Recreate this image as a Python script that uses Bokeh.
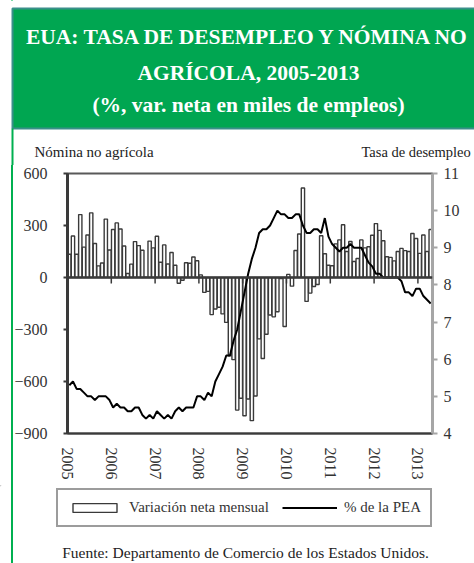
from bokeh.plotting import figure
from bokeh.models import (Range1d, LinearAxis, FixedTicker, Span, Legend, LegendItem)
from bokeh.layouts import column
from bokeh.embed import file_html
from bokeh.resources import INLINE
from bokeh.core.properties import value

# ---------------- data ----------------
years = ["2005", "2006", "2007", "2008", "2009", "2010", "2011", "2012", "2013"]

# Nómina no agrícola: variación neta mensual (miles de empleos)
nomina_2005 = [134, 239, 134, 363, 175, 245, 373, 196, 67, 84, 337, 159]
nomina_2006 = [277, 315, 280, 182, 23, 77, 207, 184, 157, 2, 210, 171]
nomina_2007 = [238, 88, 188, 78, 144, 71, -33, -16, 85, 82, 118, 97]
nomina_2008 = [15, -86, -80, -214, -182, -172, -210, -259, -452, -474, -765, -697]
nomina_2009 = [-798, -701, -826, -684, -354, -467, -327, -216, -227, -198, -6, -283]
nomina_2010 = [18, -50, 156, 251, 516, -138, -90, -52, -40, 241, 137, 71]
nomina_2011 = [68, 194, 217, 304, 150, 208, 92, 110, 217, 171, 177, 244]
nomina_2012 = [311, 272, 212, 120, 116, 96, 150, 168, 155, 150, 254, 225]
nomina_2013 = [139, 245, 150, 277]

# Tasa de desempleo (% de la PEA)
tasa_2005 = [5.3, 5.4, 5.2, 5.2, 5.1, 5.0, 5.0, 4.9, 5.0, 5.0, 5.0, 4.9]
tasa_2006 = [4.7, 4.8, 4.7, 4.7, 4.6, 4.6, 4.7, 4.7, 4.5, 4.4, 4.5, 4.4]
tasa_2007 = [4.6, 4.5, 4.4, 4.5, 4.4, 4.6, 4.7, 4.6, 4.7, 4.7, 4.7, 5.0]
tasa_2008 = [5.0, 4.9, 5.1, 5.0, 5.4, 5.6, 5.8, 6.1, 6.1, 6.5, 6.8, 7.3]
tasa_2009 = [7.8, 8.3, 8.7, 9.0, 9.4, 9.5, 9.5, 9.6, 9.8, 10.0, 9.9, 9.9]
tasa_2010 = [9.8, 9.8, 9.9, 9.9, 9.6, 9.4, 9.4, 9.5, 9.5, 9.4, 9.8, 9.3]
tasa_2011 = [9.1, 9.0, 8.9, 9.0, 9.0, 9.1, 9.0, 9.0, 9.0, 8.8, 8.6, 8.5]
tasa_2012 = [8.3, 8.3, 8.2, 8.2, 8.2, 8.2, 8.2, 8.1, 7.8, 7.8, 7.7, 7.9]
tasa_2013 = [7.9, 7.7, 7.6, 7.5]

left_ticks = [-900, -600, -300, 0, 300, 600]
right_ticks = [4, 5, 6, 7, 8, 9, 10, 11]

title_lines = ["EUA: TASA DE DESEMPLEO Y NÓMINA NO",
               "AGRÍCOLA, 2005-2013",
               "(%, var. neta en miles de empleos)"]
left_name = "Nómina no agrícola"
right_name = "Tasa de desempleo"
legend_labels = ["Variación neta mensual", "% de la PEA"]
source_note = "Fuente:  Departamento de Comercio de los Estados Unidos."

nomina = (nomina_2005 + nomina_2006 + nomina_2007 + nomina_2008 + nomina_2009
          + nomina_2010 + nomina_2011 + nomina_2012 + nomina_2013)
tasa = (tasa_2005 + tasa_2006 + tasa_2007 + tasa_2008 + tasa_2009
        + tasa_2010 + tasa_2011 + tasa_2012 + tasa_2013)
n_months = len(nomina)
xm = [i + 0.5 for i in range(n_months)]
year_pos = [12 * k for k in range(len(years))]

# ---------------- styling ----------------
FONT = "Liberation Serif"
DARK = "#3a3a3a"
GREEN = "#00A651"
CARD_LINE = "#00B050"
WIN_W, WIN_H = 474, 563
TOP_H = 165
MAIN_H = 320
BOT_H = WIN_H - TOP_H - MAIN_H

BAR_STYLE = dict(fill_color="white", line_color=DARK, line_width=1.4)
LINE_STYLE = dict(line_color="black", line_width=2)


def blank(w, h, opaque=True):
    f = figure(width=w, height=h, x_range=Range1d(0, w), y_range=Range1d(h, 0),
               output_backend="svg", toolbar_location=None,
               x_axis_location=None, y_axis_location=None,
               min_border=0, min_border_left=0, min_border_right=0,
               min_border_top=0, min_border_bottom=0, frame_align=False)
    f.outline_line_color = None
    f.xgrid.visible = False
    f.ygrid.visible = False
    f.background_fill_color = "white" if opaque else None
    f.border_fill_color = "white" if opaque else None
    return f


# ---------------- header (title card) ----------------
top = blank(WIN_W, TOP_H)
top.quad(left=12, right=WIN_W + 5, top=8, bottom=128, fill_color=GREEN,
         line_color="#3a8f8a", line_width=2)
top.segment(x0=12, y0=128, x1=12, y1=TOP_H, line_color=CARD_LINE, line_width=2)
top.text(x=[248, 248, 248], y=[36, 72, 104], text=title_lines,
         text_font=value(FONT), text_font_style="bold",
         text_font_size=value("21.5px"), text_color="white",
         text_align="center", text_baseline="alphabetic")
top.text(x=[34], y=[151], text=[left_name], text_font=value(FONT),
         text_font_size=value("15px"), text_color="#222222",
         text_align="left", text_baseline="alphabetic")
top.text(x=[361], y=[151], text=[right_name], text_font=value(FONT),
         text_font_size=value("14.5px"), text_color="#222222",
         text_align="left", text_baseline="alphabetic")

# ---------------- main chart ----------------
p = figure(width=WIN_W, height=MAIN_H, x_range=Range1d(0, n_months),
           y_range=Range1d(-900, 600), output_backend="svg", toolbar_location=None,
           min_border_left=67, min_border_right=42, min_border_top=8,
           min_border_bottom=52, frame_align=False)
p.background_fill_color = "white"
p.border_fill_color = None
p.outline_line_color = "#595959"
p.outline_line_width = 2
p.xgrid.visible = False
p.ygrid.visible = False

# x axis (years)
p.xaxis.ticker = FixedTicker(ticks=year_pos)
p.xaxis.major_label_overrides = {pos: y for pos, y in zip(year_pos, years)}
p.xaxis.major_label_orientation = "vertical"
p.xaxis.major_tick_in = 0
p.xaxis.major_tick_out = 0
p.xaxis.minor_tick_line_color = None
p.xaxis.axis_line_color = DARK
p.xaxis.axis_line_width = 2
p.xaxis.major_label_standoff = 14
p.xaxis.major_label_text_font = FONT
p.xaxis.major_label_text_font_size = "16px"
p.xaxis.major_label_text_color = "#333333"

# left axis
p.yaxis.ticker = FixedTicker(ticks=left_ticks)
p.yaxis.axis_line_color = DARK
p.yaxis.axis_line_width = 3
p.yaxis.major_tick_in = 0
p.yaxis.major_tick_out = 4
p.yaxis.major_tick_line_color = DARK
p.yaxis.major_tick_line_width = 2
p.yaxis.minor_tick_line_color = None
p.yaxis.major_label_standoff = 16
p.yaxis.major_label_text_font = FONT
p.yaxis.major_label_text_font_size = "16px"
p.yaxis.major_label_text_color = "#333333"

# right axis
p.extra_y_ranges = {"tasa": Range1d(4, 11)}
raxis = LinearAxis(y_range_name="tasa", ticker=FixedTicker(ticks=right_ticks))
raxis.axis_line_color = "#a6a6a6"
raxis.axis_line_width = 3
raxis.major_tick_in = 0
raxis.major_tick_out = 5
raxis.major_tick_line_color = "#a6a6a6"
raxis.major_tick_line_width = 2
raxis.minor_tick_line_color = None
raxis.major_label_standoff = 6
raxis.major_label_text_font = FONT
raxis.major_label_text_font_size = "16px"
raxis.major_label_text_color = "#333333"
p.add_layout(raxis, "right")

# bars
p.vbar(x=xm, top=nomina, bottom=0, width=0.9, **BAR_STYLE)

# zero line and year ticks on it
p.add_layout(Span(location=0, dimension="width", line_color=DARK, line_width=2.5))
p.segment(x0=year_pos, y0=[0] * len(year_pos), x1=year_pos, y1=[-35] * len(year_pos),
          line_color=DARK, line_width=1.5)

# unemployment line
p.line(x=xm, y=tasa, y_range_name="tasa", **LINE_STYLE)

# ---------------- footer: legend + source ----------------
bot = blank(WIN_W, BOT_H, opaque=False)
# legend keys: same styles as the chart's renderers, kept far off-canvas
key_bars = bot.vbar(x=[-5000], top=[-5000], bottom=[-4999], width=0.9, **BAR_STYLE)
key_line = bot.line(x=[-5000, -4999], y=[-5000, -5000], **LINE_STYLE)
legend = Legend(items=[LegendItem(label=legend_labels[0], renderers=[key_bars]),
                       LegendItem(label=legend_labels[1], renderers=[key_line])],
                orientation="horizontal", location=(56, BOT_H - 42),
                glyph_width=55, glyph_height=11, label_standoff=7, spacing=13,
                padding=9, margin=0, label_height=16,
                border_line_color=DARK, border_line_width=2,
                background_fill_color="white", background_fill_alpha=1,
                label_text_font=FONT, label_text_font_size="15px",
                label_text_color="#333333")
bot.add_layout(legend)
bot.text(x=[247], y=[67], text=[source_note], text_font=value(FONT),
         text_font_size=value("15.5px"), text_color="#222222",
         text_align="center", text_baseline="alphabetic")

layout = column(top, p, bot, spacing=0)
layout.styles = {"background": "linear-gradient(to right, white 11px, #00B050 11px, "
                               "#00B050 13px, white 13px)"}
open("out.html", "w").write(file_html(layout, INLINE))
